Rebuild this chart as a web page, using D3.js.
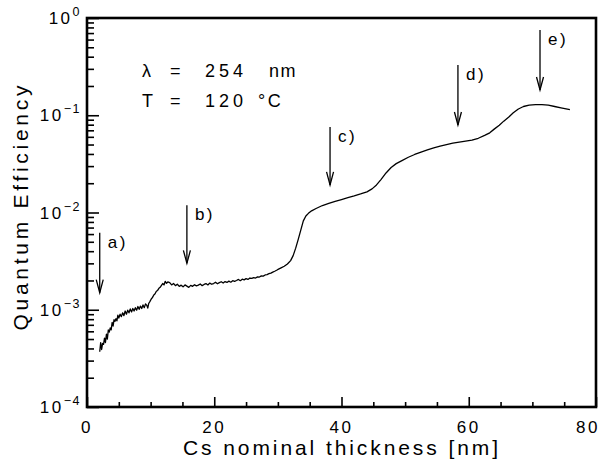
<!DOCTYPE html>
<html><head><meta charset="utf-8">
<script src="https://cdn.jsdelivr.net/npm/d3@7/dist/d3.min.js"></script>
<style>
body{margin:0;background:#fff;}
svg{display:block;}
text{font-family:"Liberation Sans",Arial,sans-serif;fill:#000;}
</style></head>
<body>
<svg id="chart" width="601" height="463"></svg>
<script>
// ---- data ----
const thickness = [2.0,2.15,2.3,2.45,2.6,2.75,2.9,3.05,3.2,3.35,3.5,3.65,3.8,3.95,4.1,4.25,4.4,4.55,4.7,4.85,5.0,5.2,5.4,5.6,5.8,6.0,6.2,6.4,6.6,6.8,7.0,7.2,7.4,7.6,7.8,8.0,8.2,8.4,8.6,8.8,9.0,9.2,9.4,9.55,9.7,9.9,10.1,10.3,10.5,10.7,10.9,11.1,11.3,11.5,11.7,11.9,12.1,12.3,12.5,12.7,13.0,13.3,13.6,13.9,14.2,14.5,14.8,15.1,15.4,15.7,16.0,16.3,16.6,16.9,17.2,17.5,17.8,18.1,18.4,18.7,19.0,19.3,19.6,19.9,20.2,20.5,20.8,21.1,21.4,21.7,22.0,22.3,22.6,22.9,23.2,23.5,23.8,24.1,24.4,24.7,25.0,25.3,25.6,25.9,26.2,26.5,26.8,27.1,27.4,27.7,28.0,28.3,28.6,28.9,29.2,29.5,29.8,30.1,30.5,31.0,31.5,32.0,32.4,32.8,33.2,33.6,34.0,34.4,34.8,35.3,36.0,37.0,38.0,39.0,40.0,41.0,42.0,43.0,44.0,44.8,45.5,46.2,47.0,47.8,48.6,49.5,50.5,51.5,52.5,53.5,54.5,55.5,56.5,57.5,58.5,59.5,60.5,61.5,62.5,63.3,64.0,64.8,65.5,66.3,67.0,67.8,68.6,69.5,70.5,71.5,72.5,73.5,74.5,75.3,75.9];
const efficiency = [3.7e-4,4.6e-4,3.9e-4,4.5e-4,4.4e-4,5.1e-4,4.6e-4,5.6e-4,5.0e-4,6.2e-4,5.9e-4,6.5e-4,6.2e-4,7.4e-4,6.8e-4,7.9e-4,7.6e-4,8.1e-4,7.7e-4,8.8e-4,8.2e-4,9.0e-4,8.5e-4,9.3e-4,8.7e-4,9.7e-4,9.0e-4,9.9e-4,9.3e-4,1.02e-3,9.5e-4,1.03e-3,9.7e-4,1.05e-3,9.9e-4,1.08e-3,1.01e-3,1.09e-3,1.03e-3,1.12e-3,1.05e-3,1.15e-3,1.11e-3,1.04e-3,1.16e-3,1.22e-3,1.29e-3,1.34e-3,1.42e-3,1.46e-3,1.55e-3,1.58e-3,1.66e-3,1.70e-3,1.78e-3,1.86e-3,1.80e-3,1.96e-3,1.87e-3,1.93e-3,1.90e-3,1.80e-3,1.86e-3,1.77e-3,1.83e-3,1.74e-3,1.79e-3,1.72e-3,1.80e-3,1.75e-3,1.70e-3,1.78e-3,1.74e-3,1.81e-3,1.76e-3,1.79e-3,1.84e-3,1.77e-3,1.82e-3,1.86e-3,1.80e-3,1.88e-3,1.83e-3,1.86e-3,1.92e-3,1.85e-3,1.90e-3,1.94e-3,1.88e-3,1.95e-3,1.91e-3,1.97e-3,1.92e-3,1.99e-3,1.96e-3,2.00e-3,2.05e-3,1.99e-3,2.06e-3,2.03e-3,2.09e-3,2.05e-3,2.12e-3,2.10e-3,2.14e-3,2.12e-3,2.18e-3,2.17e-3,2.23e-3,2.22e-3,2.28e-3,2.30e-3,2.35e-3,2.38e-3,2.44e-3,2.49e-3,2.55e-3,2.62e-3,2.70e-3,2.80e-3,2.95e-3,3.2e-3,3.6e-3,4.3e-3,5.3e-3,6.6e-3,8.2e-3,9.2e-3,9.8e-3,1.04e-2,1.10e-2,1.18e-2,1.24e-2,1.30e-2,1.36e-2,1.42e-2,1.48e-2,1.55e-2,1.63e-2,1.75e-2,1.92e-2,2.18e-2,2.55e-2,2.90e-2,3.18e-2,3.42e-2,3.70e-2,3.95e-2,4.18e-2,4.40e-2,4.62e-2,4.82e-2,5.00e-2,5.17e-2,5.30e-2,5.42e-2,5.55e-2,5.80e-2,6.20e-2,6.60e-2,7.20e-2,7.90e-2,8.70e-2,9.60e-2,0.106,0.116,0.123,0.127,0.1285,0.1285,0.127,0.123,0.119,0.116,0.114];

const xTicks = [0,20,40,60,80];
const xMinorTicks = [5,10,15,25,30,35,45,50,55,65,70,75];
const yExponents = [-4,-3,-2,-1,0];

const arrowLabels = ["a)","b)","c)","d)","e)"];
const arrowX      = [2.0, 15.7, 38.2, 58.3, 71.2];
const arrowTop    = [6.2e-3, 1.19e-2, 7.57e-2, 0.329, 0.753];
const arrowBottom = [1.5e-3, 3.0e-3, 1.92e-2, 0.0794, 0.182];

const infoLine1 = ["λ","=","254","nm"];
const infoLine2 = ["T","=","120","°C"];

const xTitle = "Cs nominal thickness [nm]";
const yTitle = "Quantum Efficiency";

// ---- layout ----
const L = 87, R = 596, T = 18, B = 407;
const svg = d3.select("#chart");
const x = d3.scaleLinear().domain([0,80]).range([L,R]);
const y = d3.scaleLog().domain([1e-4,1]).range([B,T]);

const yMinor = [];
yExponents.slice(0,-1).forEach(e => { for (let k=2;k<=9;k++) yMinor.push(k*Math.pow(10,e)); });

const g = svg.append("g");
const tickStyle = s=>{s.select(".domain").remove(); s.selectAll("line").attr("stroke","#000").attr("stroke-width",1.6);};

g.append("g").attr("transform",`translate(${L},0)`)
  .call(d3.axisRight(y).tickValues(yMinor).tickSize(7).tickFormat("")).call(tickStyle);
g.append("g").attr("transform",`translate(${L},0)`)
  .call(d3.axisRight(y).tickValues(yExponents.map(e=>Math.pow(10,e))).tickSize(12).tickFormat("")).call(tickStyle);
g.append("g").attr("transform",`translate(0,${B})`)
  .call(d3.axisTop(x).tickValues(xMinorTicks).tickSize(5).tickFormat("")).call(tickStyle);
g.append("g").attr("transform",`translate(0,${B})`)
  .call(d3.axisTop(x).tickValues(xTicks).tickSize(10).tickFormat("")).call(tickStyle);

// frame
g.append("rect").attr("x",L).attr("y",T).attr("width",R-L).attr("height",B-T)
  .attr("fill","none").attr("stroke","#000").attr("stroke-width",2.6);

// x tick labels
g.selectAll(".xl").data(xTicks).enter().append("text")
  .attr("x",(d,i)=> i===xTicks.length-1 ? 600 : x(d))
  .attr("y",B+26)
  .attr("text-anchor",(d,i)=> i===xTicks.length-1 ? "end" : "middle")
  .attr("font-size",17).attr("letter-spacing",2.5).text(d=>d);

// y tick labels
yExponents.forEach(e=>{
  const t = g.append("text").attr("x",81).attr("y",y(Math.pow(10,e))+6)
    .attr("text-anchor","end").attr("font-size",17).attr("letter-spacing",2.5);
  t.append("tspan").text("10");
  t.append("tspan").attr("dy",-8).attr("font-size",12.5).attr("letter-spacing",1.5)
    .text(e===0?"0":"\u2212"+Math.abs(e));
});

// axis titles
g.append("text").attr("x",(L+R)/2-1).attr("y",455).attr("text-anchor","middle")
  .attr("font-size",21).attr("textLength",315).attr("lengthAdjust","spacing").text(xTitle);
g.append("text").attr("transform",`translate(28,${208}) rotate(-90)`).attr("text-anchor","middle")
  .attr("font-size",21).attr("textLength",245).attr("lengthAdjust","spacing").text(yTitle);

// curve
const pts = thickness.map((t,i)=>[t,efficiency[i]]);
g.append("path").datum(pts)
  .attr("fill","none").attr("stroke","#000").attr("stroke-width",1.3).attr("stroke-linejoin","round")
  .attr("d", d3.line().x(d=>x(d[0])).y(d=>y(d[1])));

// arrows
arrowLabels.forEach((lab,i)=>{
  const ax = x(arrowX[i]), y0 = y(arrowTop[i]), y1 = y(arrowBottom[i]);
  g.append("line").attr("x1",ax).attr("x2",ax).attr("y1",y0).attr("y2",y1)
    .attr("stroke","#000").attr("stroke-width",1.3);
  g.append("path").attr("d",`M${ax-3.5},${y1-13}L${ax},${y1}L${ax+3.5},${y1-13}`)
    .attr("fill","none").attr("stroke","#000").attr("stroke-width",1.3);
  g.append("text").attr("x",ax+8).attr("y",y0+15).attr("font-size",17)
    .attr("letter-spacing",2.5).text(lab);
});

// info text
const infoX = [0,28,63,127];
const infoX2 = [0,28,63,116];
const ix = 142;
const isNum = s => /^[0-9]+$/.test(s);
infoLine1.forEach((s,i)=>g.append("text").attr("x",ix+infoX[i]).attr("y",77)
  .attr("font-size",18).attr("letter-spacing",isNum(s)?4:1.5).text(s));
infoLine2.forEach((s,i)=>g.append("text").attr("x",ix+infoX2[i]).attr("y",107)
  .attr("font-size",18).attr("letter-spacing",isNum(s)?4:2.5).text(s));
</script>
</body></html>
